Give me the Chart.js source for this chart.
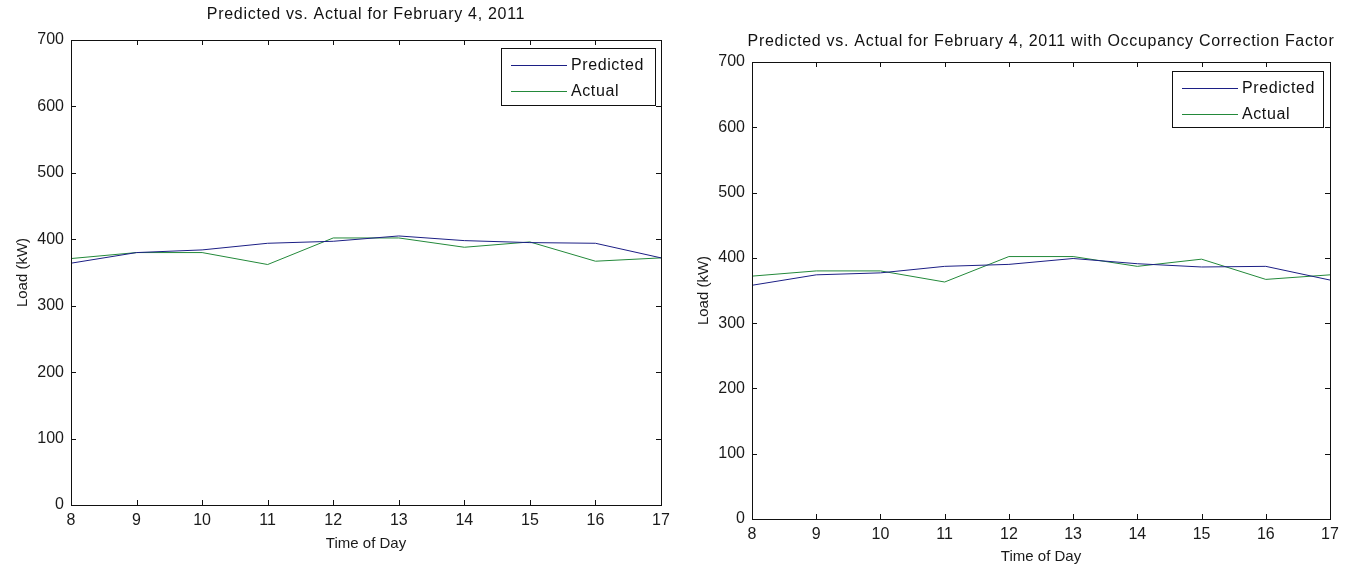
<!DOCTYPE html>
<html>
<head>
<meta charset="utf-8">
<title>Predicted vs. Actual</title>
<script src="https://cdn.jsdelivr.net/npm/chart.js@4.4.1/dist/chart.umd.min.js"></script>
<style>
  body { margin: 0; background: #fff; }
  canvas { position: absolute; top: 0; }
</style>
</head>
<body>
<canvas id="plainChart" width="680" height="571" style="left:0"></canvas>
<canvas id="occupancyChart" width="666" height="571" style="left:680px"></canvas>
<script>
// hours of the day (x axis)
const hours = [8, 9, 10, 11, 12, 13, 14, 15, 16, 17];
// measured load, kW
const actualLoad = [371, 380, 380, 362, 402, 402, 388, 396, 367, 372];
// model output without / with the occupancy correction
const predictedLoad = [364, 380, 384, 394, 397, 405, 398, 395, 394, 372];
const predictedCorrected = [358, 374, 377, 387, 390, 399, 391, 386, 387, 366];
const actualLoadRight = [372, 380, 380, 363, 402, 402, 387, 398, 367, 374];

const yTicks = [0, 100, 200, 300, 400, 500, 600, 700];
const seriesNames = ["Predicted", "Actual"];
const seriesColors = ["#1c1f85", "#23893a"];

const FONT = "'Liberation Sans', Arial, sans-serif";
Chart.defaults.font.family = FONT;
Chart.defaults.color = "#1a1a1a";

// MATLAB-ish frame: box around the axes with inward ticks on all sides
const framePlugin = {
  id: "frame",
  afterDatasetsDraw(chart) {
    const { ctx, chartArea: a, scales } = chart;
    ctx.save();
    ctx.strokeStyle = "#111";
    ctx.lineWidth = 1;
    ctx.strokeRect(a.left + 0.5, a.top + 0.5, a.right - a.left, a.bottom - a.top);
    const tl = 5;
    ctx.beginPath();
    scales.x.ticks.forEach(t => {
      const px = Math.round(scales.x.getPixelForValue(t.value)) + 0.5;
      ctx.moveTo(px, a.bottom); ctx.lineTo(px, a.bottom - tl);
      ctx.moveTo(px, a.top); ctx.lineTo(px, a.top + tl);
    });
    scales.y.ticks.forEach(t => {
      const py = Math.round(scales.y.getPixelForValue(t.value)) + 0.5;
      ctx.moveTo(a.left, py); ctx.lineTo(a.left + tl, py);
      ctx.moveTo(a.right, py); ctx.lineTo(a.right - tl, py);
    });
    ctx.stroke();
    ctx.restore();
  }
};

// boxed legend in the top-right corner plus the title above the axes
const legendBoxPlugin = {
  id: "legendBox",
  afterDraw(chart, args, opts) {
    const { ctx, chartArea: a } = chart;
    ctx.save();
    ctx.font = "16px " + FONT;
    ctx.letterSpacing = "0.7px";
    ctx.fillStyle = "#111";
    ctx.textAlign = "center";
    ctx.textBaseline = "middle";
    ctx.fillText(opts.title, (a.left + a.right) / 2, opts.titleY);

    const w = opts.width, h = opts.height;
    const x0 = a.right - opts.inset - w, y0 = a.top + opts.drop;
    ctx.fillStyle = "#fff";
    ctx.fillRect(x0, y0, w, h);
    ctx.strokeStyle = "#111";
    ctx.lineWidth = 1;
    ctx.strokeRect(Math.round(x0) + 0.5, Math.round(y0) + 0.5, w, h);
    ctx.textAlign = "left";
    ctx.letterSpacing = "0.6px";
    chart.data.datasets.forEach((ds, i) => {
      const ry = Math.round(y0 + 17 + i * 26) + 0.5;
      ctx.strokeStyle = ds.borderColor;
      ctx.beginPath();
      ctx.moveTo(x0 + 10, ry);
      ctx.lineTo(x0 + 66, ry);
      ctx.stroke();
      ctx.fillStyle = "#111";
      ctx.fillText(ds.label, x0 + 70, ry);
    });
    ctx.restore();
  }
};

function makeChart(id, cfg) {
  const canvas = document.getElementById(id);
  const W = canvas.width, H = canvas.height;
  const datasets = [cfg.predicted, cfg.actual].map((vals, i) => ({
    label: seriesNames[i],
    data: hours.map((h, k) => ({ x: h, y: vals[k] })),
    borderColor: seriesColors[i],
    borderWidth: 1,
    pointRadius: 0,
    tension: 0,
    fill: false
  }));

  return new Chart(canvas.getContext("2d"), {
    type: "line",
    data: { datasets },
    plugins: [framePlugin, legendBoxPlugin],
    options: {
      responsive: false,
      animation: false,
      layout: { padding: { top: cfg.area.top, right: W - cfg.area.right, left: 0, bottom: 0 } },
      plugins: {
        legend: { display: false },
        tooltip: { enabled: false },
        legendBox: cfg.legend
      },
      scales: {
        x: {
          type: "linear",
          min: hours[0],
          max: hours[hours.length - 1],
          ticks: { stepSize: 1, padding: cfg.xTickPad, font: { size: 16 }, color: "#1a1a1a" },
          grid: { display: false, drawTicks: false },
          border: { display: false },
          title: {
            display: true, text: "Time of Day",
            font: { size: 15 }, color: "#1a1a1a",
            padding: { top: 0, bottom: cfg.xTitlePad }
          },
          afterFit(s) { s.height = H - cfg.area.bottom; }
        },
        y: {
          min: yTicks[0],
          max: yTicks[yTicks.length - 1],
          afterBuildTicks(s) { s.ticks = yTicks.map(v => ({ value: v })); },
          ticks: { padding: 7, font: { size: 16 }, color: "#1a1a1a" },
          grid: { display: false, drawTicks: false },
          border: { display: false },
          title: {
            display: true, text: "Load (kW)",
            font: { size: 15 }, color: "#1a1a1a",
            padding: { top: cfg.yTitlePad, bottom: 0 }
          },
          afterFit(s) { s.width = cfg.area.left; }
        }
      }
    }
  });
}

makeChart("plainChart", {
  predicted: predictedLoad,
  actual: actualLoad,
  area: { left: 71, right: 661, top: 40, bottom: 505 },
  xTickPad: 6,
  xTitlePad: 18,
  yTitlePad: 14,
  legend: {
    title: "Predicted vs. Actual for February 4, 2011",
    titleY: 15, width: 154, height: 57, inset: 6, drop: 8
  }
});

makeChart("occupancyChart", {
  predicted: predictedCorrected,
  actual: actualLoadRight,
  area: { left: 72, right: 650, top: 62, bottom: 519 },
  xTickPad: 6,
  xTitlePad: 5,
  yTitlePad: 15,
  legend: {
    title: "Predicted vs. Actual for February 4, 2011 with Occupancy Correction Factor",
    titleY: 42, width: 151, height: 56, inset: 7, drop: 9
  }
});
</script>
</body>
</html>
